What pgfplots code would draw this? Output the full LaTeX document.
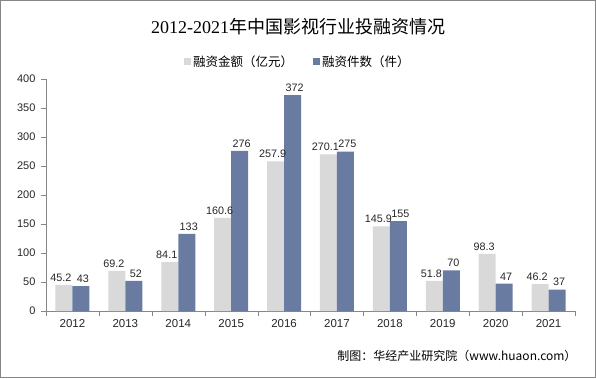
\documentclass[border=0pt]{standalone}
\usepackage{pgfplots}
\pgfplotsset{compat=1.18}
\usepackage{fontspec}
\setmainfont{Liberation Sans}
\newfontfamily\cjk{Noto Sans CJK SC}
\newfontfamily\serifnum{Liberation Serif}
\definecolor{cgray}{HTML}{D9D9D9}
\definecolor{cblue}{HTML}{6A7BA2}
\definecolor{axgray}{HTML}{868686}
\begin{document}
\begin{tikzpicture}[x=1pt,y=1pt]
\draw[draw=axgray, line width=1pt] (0.5,0.5) rectangle (595.5,377.5);
\node[font=\fontsize{18}{18}\selectfont] at (298,351) {\serifnum 2012-2021\cjk 年中国影视行业投融资情况};
\node[anchor=east, font=\cjk\fontsize{12}{12}\selectfont] at (580,22) {制图：华经产业研究院（www.huaon.com）};
\begin{axis}[
  at={(46pt,67pt)}, anchor=south west,
  scale only axis, width=529pt, height=232pt,
  ybar=0pt, bar width=17pt,
  xmin=-0.5, xmax=9.5, ymin=0, ymax=400,
  ytick={0,50,...,400},
  xtick={0,...,9},
  xticklabels={2012,2013,2014,2015,2016,2017,2018,2019,2020,2021},
  minor xtick={-0.5,0.5,...,9.5},
  major x tick style={draw=none},
  minor x tick style={draw=axgray},
  y tick style={draw=axgray},
  tick align=outside,
  major tick length=5pt, minor tick length=5pt,
  axis x line*=bottom, axis y line*=left,
  axis line style={draw=axgray,-},
  xticklabel style={font=\fontsize{11.5}{11.5}\selectfont, text=black!85},
  yticklabel style={font=\fontsize{11}{11}\selectfont, text=black!85, xshift=-2pt},
  /pgf/number format/assume math mode=true,
  nodes near coords,
  nodes near coords style={font=\fontsize{10.8}{10.8}\selectfont, text=black!85, inner xsep=0pt, /pgf/number format/fixed, /pgf/number format/precision=1},
  legend style={at={(0.476,1.073)}, anchor=center, draw=none, fill=none, legend columns=2,
    font=\cjk\fontsize{12.5}{12.5}\selectfont,
    /tikz/every even column/.append style={column sep=18pt}},
  legend image code/.code={\fill[#1] (0pt,-3pt) rectangle (7pt,4pt);},
]
\addplot[fill=cgray, draw=none, nodes near coords style={xshift=-3pt}] coordinates {(0,45.2) (1,69.2) (2,84.1) (3,160.6) (4,257.9) (5,270.1) (6,145.9) (7,51.8) (8,98.3) (9,46.2)};
\addlegendentry{融资金额（亿元）}
\addplot[fill=cblue, draw=none, nodes near coords style={xshift=2pt}] coordinates {(0,43) (1,52) (2,133) (3,276) (4,372) (5,275) (6,155) (7,70) (8,47) (9,37)};
\addlegendentry{融资件数（件）}
\end{axis}
\end{tikzpicture}
\end{document}
